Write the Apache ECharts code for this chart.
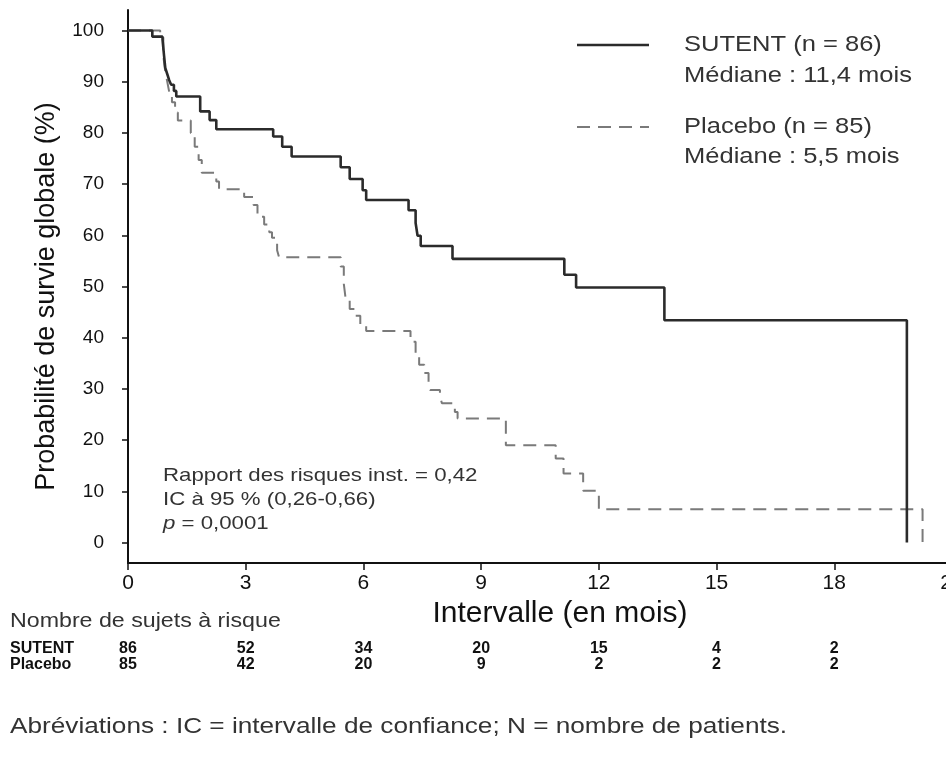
<!DOCTYPE html>
<html>
<head>
<meta charset="utf-8">
<script src="https://cdn.jsdelivr.net/npm/echarts@6/dist/echarts.min.js"></script>
<style>
html,body{margin:0;padding:0;background:#ffffff;}
#c{width:946px;height:761px;}
</style>
</head>
<body>
<div id="c"></div>
<script>
// ---- Data ----
const sutentTimes = [0, 0.62, 0.88, 0.92, 0.95, 1.0, 1.05, 1.1, 1.17, 1.23, 1.84, 2.08, 2.25, 3.7, 3.93, 4.17, 5.42, 5.65, 5.98, 6.07, 7.15, 7.33, 7.38, 7.46, 8.27, 11.12, 11.42, 13.67, 19.85];
const sutentSurvival = [100, 98.8, 98.2, 95.0, 92.7, 91.5, 90.3, 89.4, 88.2, 87.1, 84.2, 82.5, 80.7, 79.3, 77.3, 75.4, 73.3, 71.0, 68.8, 66.9, 64.9, 62.4, 59.9, 57.9, 55.4, 52.3, 49.8, 43.4, 0];

const placeboTimes = [0, 0.82, 0.9, 0.95, 1.0, 1.05, 1.12, 1.2, 1.27, 1.6, 1.7, 1.8, 1.88, 2.25, 2.32, 2.96, 3.2, 3.3, 3.47, 3.6, 3.67, 3.8, 3.85, 5.42, 5.5, 5.55, 5.65, 5.78, 5.92, 6.07, 7.2, 7.33, 7.42, 7.55, 7.66, 7.7, 7.95, 8.0, 8.33, 8.4, 9.63, 10.9, 11.1, 11.6, 12.0, 20.25];
const placeboSurvival = [100, 98.8, 95, 92, 90, 88, 86, 84, 82.4, 80, 77.3, 74.7, 72.2, 70.5, 69, 67.5, 65.9, 63.6, 62.1, 60.6, 59.5, 57.1, 55.7, 53.9, 50.5, 47.4, 45.6, 44.3, 42.4, 41.3, 39.2, 36.8, 34.7, 33.1, 31.2, 29.8, 28.6, 27.2, 25.5, 24.2, 19.0, 16.4, 13.5, 10.1, 6.5, 0];

const yTickValues = [0, 10, 20, 30, 40, 50, 60, 70, 80, 90, 100];
const riskTimes = [0, 3, 6, 9, 12, 15, 18];
const sutentAtRisk = [86, 52, 34, 20, 15, 4, 2];
const placeboAtRisk = [85, 42, 20, 9, 2, 2, 2];

const seriesNames = ['SUTENT', 'Placebo'];
const legendLine1 = ['SUTENT (n = 86)', 'Placebo (n = 85)'];
const legendLine2 = ['Médiane : 11,4 mois', 'Médiane : 5,5 mois'];
const annotationLines = ['Rapport des risques inst. = 0,42', 'IC à 95 % (0,26-0,66)'];
const pValueText = '0,0001';
const xAxisTitle = 'Intervalle (en mois)';
const yAxisTitle = 'Probabilité de survie globale (%)';
const riskTitle = 'Nombre de sujets à risque';
const footnote = 'Abréviations : IC = intervalle de confiance; N = nombre de patients.';

const zip = (a, b) => a.map((v, i) => [v, b[i]]);
const FONT = '"Liberation Sans", Arial, Helvetica, sans-serif';

const chart = echarts.init(document.getElementById('c'));
chart.setOption({
  animation: false,
  backgroundColor: '#ffffff',
  grid: { left: 128, right: -6, top: 10, bottom: 198, containLabel: false, outerBoundsMode: 'none' },
  xAxis: {
    type: 'value', min: 0, max: 21, interval: 3,
    axisLine: { show: true, onZero: false, lineStyle: { color: '#111', width: 2 } },
    axisTick: { show: true, length: 7, lineStyle: { color: '#111', width: 1.5 } },
    axisLabel: { fontSize: 21, color: '#111', fontFamily: FONT, margin: 10 },
    splitLine: { show: false },
    name: xAxisTitle, nameLocation: 'middle', nameGap: 25,
    nameTextStyle: { fontSize: 30, color: '#111', fontFamily: FONT, padding: [0, 0, 0, 40] }
  },
  yAxis: {
    type: 'value', min: -4, max: 104,
    axisLine: { show: true, onZero: false, lineStyle: { color: '#111', width: 2 } },
    axisTick: { show: true, length: 6, customValues: yTickValues, lineStyle: { color: '#111', width: 1.5 } },
    axisLabel: { customValues: yTickValues, fontSize: 19, color: '#111', fontFamily: FONT, margin: 24 },
    splitLine: { show: false },
    name: yAxisTitle, nameLocation: 'middle', nameGap: 68,
    nameTextStyle: { fontSize: 27, color: '#111', fontFamily: FONT, padding: [0, 20, 0, 0] }
  },
  series: [
    {
      name: seriesNames[0], type: 'line', step: 'end', symbol: 'none',
      data: zip(sutentTimes, sutentSurvival),
      lineStyle: { color: '#2b2b2b', width: 2.6, type: 'solid' }, z: 3
    },
    {
      name: seriesNames[1], type: 'line', step: 'end', symbol: 'none',
      data: zip(placeboTimes, placeboSurvival),
      lineStyle: { color: '#7a7a7a', width: 2, type: [13, 8] }, z: 2
    }
  ]
});

const px = t => chart.convertToPixel({ xAxisIndex: 0 }, t);
const txt = (x, y, text, size, sx, opts) => Object.assign({
  type: 'text', x: x, y: y, scaleX: sx, silent: true,
  style: { text: text, font: size + 'px ' + FONT, fill: '#333', align: 'left', verticalAlign: 'middle' }
}, opts || {});

const graphics = [];
// Legend
graphics.push({ type: 'line', shape: { x1: 577, y1: 45, x2: 649, y2: 45 }, style: { stroke: '#2b2b2b', lineWidth: 2.6 }, silent: true });
graphics.push({ type: 'line', shape: { x1: 577, y1: 127, x2: 649, y2: 127 }, style: { stroke: '#7a7a7a', lineWidth: 2, lineDash: [13, 8] }, silent: true });
graphics.push(txt(684, 45, legendLine1[0], 22, 1.16));
graphics.push(txt(684, 76, legendLine2[0], 22, 1.16));
graphics.push(txt(684, 127, legendLine1[1], 22, 1.16));
graphics.push(txt(684, 157, legendLine2[1], 22, 1.16));
// Annotation
graphics.push(txt(163, 476, annotationLines[0], 19, 1.17));
graphics.push(txt(163, 500, annotationLines[1], 19, 1.17));
graphics.push({
  type: 'text', x: 163, y: 524, scaleX: 1.17, silent: true,
  style: {
    text: '{i|p} = ' + pValueText, font: '19px ' + FONT, fill: '#333', align: 'left', verticalAlign: 'middle',
    rich: { i: { fontStyle: 'italic', fontSize: 19, fontFamily: FONT, fill: '#333' } }
  }
});
// Risk table
const rowY = [649, 665];
graphics.push(txt(10, 621, riskTitle, 20, 1.16));
graphics.push({ type: 'text', x: 10, y: rowY[0], silent: true, style: { text: seriesNames[0], font: 'bold 16px ' + FONT, fill: '#111', align: 'left', verticalAlign: 'middle' } });
graphics.push({ type: 'text', x: 10, y: rowY[1], silent: true, style: { text: seriesNames[1], font: 'bold 16px ' + FONT, fill: '#111', align: 'left', verticalAlign: 'middle' } });
riskTimes.forEach((t, i) => {
  const x = px(t);
  graphics.push({ type: 'text', x: x, y: rowY[0], silent: true, style: { text: String(sutentAtRisk[i]), font: 'bold 16px ' + FONT, fill: '#111', align: 'center', verticalAlign: 'middle' } });
  graphics.push({ type: 'text', x: x, y: rowY[1], silent: true, style: { text: String(placeboAtRisk[i]), font: 'bold 16px ' + FONT, fill: '#111', align: 'center', verticalAlign: 'middle' } });
});
// Footnote
graphics.push(txt(10, 727, footnote, 22, 1.19));

chart.setOption({ graphic: graphics });
</script>
</body>
</html>
